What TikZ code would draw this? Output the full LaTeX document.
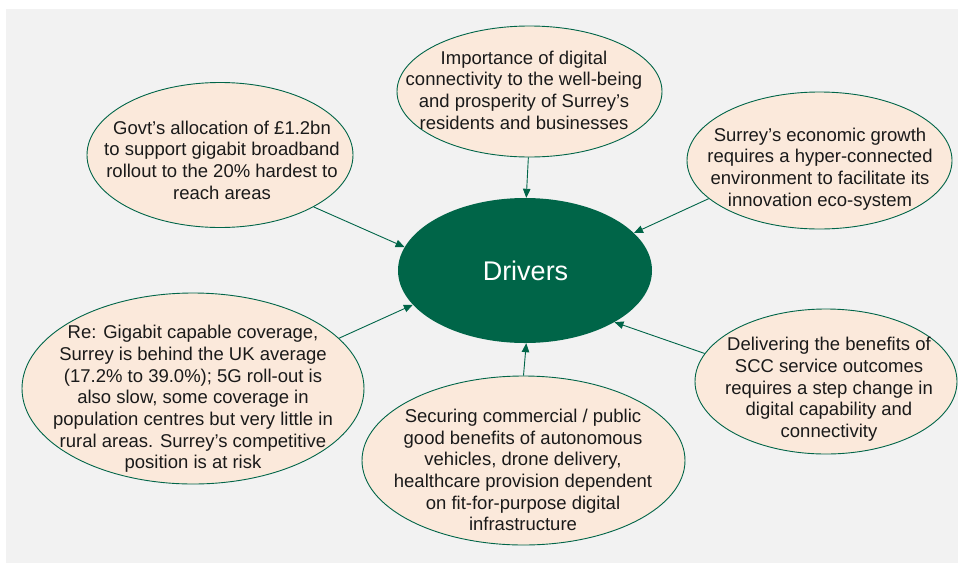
\documentclass[tikz,border=0pt]{standalone}
\usepackage{fontspec}
\setmainfont{Liberation Sans}
\usetikzlibrary{shapes.geometric,arrows.meta}
\definecolor{dgreen}{HTML}{006548}
\definecolor{peach}{HTML}{FBE9DB}
\definecolor{bggrey}{HTML}{F2F2F2}
\definecolor{txtc}{HTML}{1A1A1A}
\begin{document}
\begin{tikzpicture}[x=1pt,y=-1pt,
  bubble/.style={ellipse,draw=dgreen,line width=0.9pt,fill=peach,inner sep=0pt},
  txt/.style={align=center,font=\fontsize{18.5}{21.7}\selectfont,text=txtc,inner sep=0pt},
  conn/.style={draw=dgreen,line width=0.9pt,-{Triangle[length=9pt,width=7.5pt]}}]
\useasboundingbox (0,0) rectangle (958,563);
\fill[bggrey] (6,9) rectangle (958,563);
% bubbles
\node[bubble,minimum width=266pt,minimum height=145pt] (govt) at (220,155) {};
\node[txt] (govtT) at (222,160) {Govt’s allocation of £1.2bn\\to support gigabit broadband\\rollout to the 20\% hardest to\\reach areas};
\node[bubble,minimum width=265pt,minimum height=131pt] (imp) at (529.5,91.5) {};
\node[txt] (impT) at (524,90) {Importance of digital\\connectivity to the well-being\\and prosperity of Surrey’s\\residents and businesses};
\node[bubble,minimum width=265pt,minimum height=137pt] (econ) at (819.5,160.5) {};
\node[txt] (econT) at (820,169) {Surrey’s economic growth\\requires a hyper-connected\\environment to facilitate its\\innovation eco-system};
\node[bubble,minimum width=342pt,minimum height=191pt] (re) at (193,388.5) {};
\node[txt] (reT) at (193,399) {Re: Gigabit capable coverage,\\Surrey is behind the UK average\\(17.2\% to 39.0\%); 5G roll-out is\\also slow, some coverage in\\population centres but very little in\\rural areas. Surrey’s competitive\\position is at risk};
\node[bubble,minimum width=323pt,minimum height=169pt] (sec) at (523.5,460.5) {};
\node[txt] (secT) at (523,470) {Securing commercial / public\\good benefits of autonomous\\vehicles, drone delivery,\\healthcare provision dependent\\on fit-for-purpose digital\\infrastructure};
\node[bubble,minimum width=262pt,minimum height=145pt] (del) at (826,381.5) {};
\node[txt] (delT) at (829,389.5) {Delivering the benefits of\\SCC service outcomes\\requires a step change in\\digital capability and\\connectivity};
% centre
\node[ellipse,fill=dgreen,minimum width=254pt,minimum height=145pt,inner sep=0pt] (drv) at (525,270.5) {};
\node[text=white,font=\fontsize{27}{32}\selectfont,inner sep=0pt] (drvT) at (525.5,271) {Drivers};
% connectors
\draw[conn] (govt.-29) -- (drv.169);
\draw[conn] (imp.-91) -- (drv.89);
\draw[conn] (econ.199.6) -- (drv.19.6);
\draw[conn] (re.19.7) -- (drv.197.7);
\draw[conn] (sec.90) -- (drv.-89);
\draw[conn] (del.167.4) -- (drv.-30);
\end{tikzpicture}
\end{document}
